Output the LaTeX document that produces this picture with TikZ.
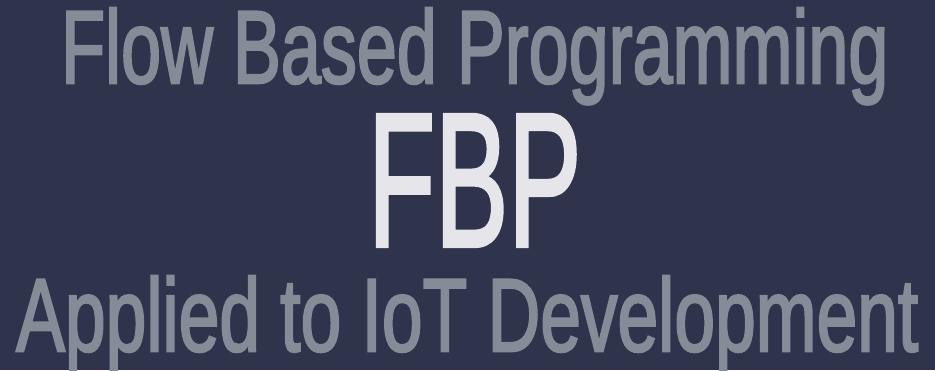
\documentclass[tikz,border=0pt]{standalone}
\usepackage{fontspec}
\setmainfont{Liberation Sans}
\newfontfamily\sublinefont[FakeBold=2.5]{Liberation Sans}
\newfontfamily\biglinefont[FakeBold=2.2]{Liberation Sans}
\usepackage{graphicx}
\definecolor{slidebg}{HTML}{2F334C}
\definecolor{subgray}{HTML}{858C97}
\definecolor{maintext}{HTML}{E6E6EA}
\tikzset{
    subline/.style={anchor=base west, inner sep=0pt, text=subgray, font=\sublinefont},
    bigline/.style={anchor=base west, inner sep=0pt, text=maintext, font=\biglinefont}
}
\begin{document}
\begin{tikzpicture}[x=1pt,y=1pt]
    \fill[slidebg] (0,0) rectangle (935,-370);
    \useasboundingbox (0,0) rectangle (935,-370);
    \node[subline] (flow) at (61,-83)
        {\resizebox{827pt}{75pt}{Flow Based Programming}};
    \node[bigline] (fbp) at (368,-246)
        {\resizebox{213pt}{131pt}{FBP}};
    \node[subline] (applied) at (16,-351)
        {\resizebox{902pt}{75pt}{Applied to IoT Development}};
\end{tikzpicture}
\end{document}
